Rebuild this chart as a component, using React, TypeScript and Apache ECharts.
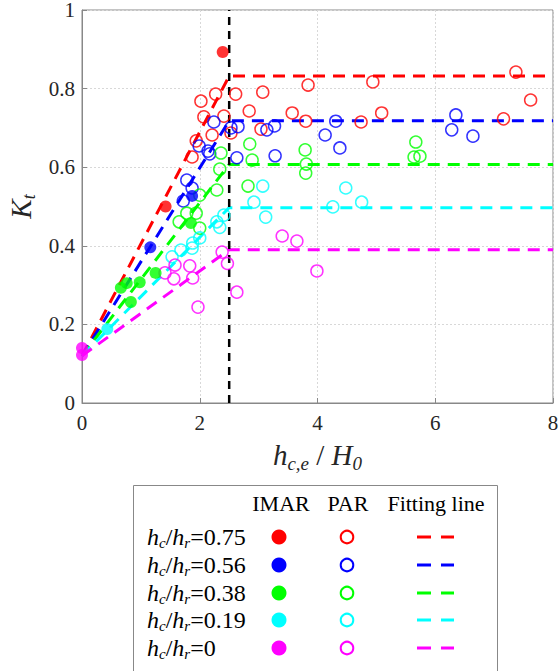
import React, { useEffect, useRef } from "react";
import * as echarts from "echarts";

const groupLabels = ["0.75", "0.56", "0.38", "0.19", "0"];
const groupColors = ["#ff0000", "#0000ff", "#00ff00", "#00ffff", "#ff00ff"];

const imarRed = [[2.39, 0.893], [1.42, 0.5]];
const imarBlue = [[1.16, 0.396], [1.87, 0.527]];
const imarGreen = [[1.85, 0.458], [1.25, 0.331], [0.98, 0.307], [0.76, 0.305], [0.66, 0.293], [0.83, 0.257]];
const imarCyan = [[0.43, 0.188]];
const imarMagenta = [[0, 0.14], [0, 0.122]];

const parRed = [[2.02, 0.768], [2.27, 0.786], [2.61, 0.786], [2.07, 0.728], [2.41, 0.73], [2.84, 0.743], [2.21, 0.682], [2.53, 0.687], [1.94, 0.667], [1.87, 0.626], [3.07, 0.791], [3.04, 0.697], [3.57, 0.738], [3.84, 0.809], [3.8, 0.717], [4.94, 0.817], [5.09, 0.738], [4.74, 0.715], [7.37, 0.842], [7.62, 0.771], [7.16, 0.723]];
const parBlue = [[1.72, 0.514], [1.87, 0.547], [1.78, 0.567], [2.24, 0.715], [2.53, 0.7], [2.65, 0.703], [1.99, 0.654], [2.14, 0.641], [2.17, 0.634], [2.63, 0.624], [3.14, 0.695], [3.27, 0.705], [3.28, 0.629], [4.31, 0.717], [4.13, 0.682], [4.38, 0.649], [6.35, 0.733], [6.28, 0.695], [6.64, 0.679]];
const parGreen = [[2.0, 0.529], [1.78, 0.483], [1.94, 0.483], [1.65, 0.461], [2.0, 0.445], [2.29, 0.542], [2.36, 0.636], [2.85, 0.659], [2.34, 0.595], [2.89, 0.618], [2.82, 0.552], [3.79, 0.644], [3.81, 0.608], [3.8, 0.585], [5.67, 0.664], [5.64, 0.626], [5.74, 0.628]];
const parCyan = [[2.29, 0.461], [2.34, 0.447], [2.41, 0.478], [2.0, 0.42], [1.88, 0.407], [1.87, 0.394], [1.68, 0.389], [1.53, 0.372], [3.07, 0.552], [2.92, 0.511], [3.12, 0.473], [4.48, 0.547], [4.26, 0.499], [4.75, 0.511]];
const parMagenta = [[1.41, 0.331], [1.58, 0.351], [1.83, 0.349], [1.56, 0.316], [1.88, 0.318], [1.97, 0.244], [2.38, 0.384], [2.47, 0.355], [2.63, 0.282], [3.4, 0.425], [3.65, 0.412], [3.99, 0.336]];

const fitPlateaus = [0.832, 0.718, 0.607, 0.497, 0.39];
const fitIntercept = 0.12;
const fitBreakX = 2.5;
const xMin = 0;
const xMax = 8;
const xInterval = 2;
const yMin = 0;
const yMax = 1;
const yInterval = 0.2;

const imarData = [imarRed, imarBlue, imarGreen, imarCyan, imarMagenta];
const parData = [parRed, parBlue, parGreen, parCyan, parMagenta];

const FONT = "Liberation Serif";

export default function App() {
  const ref = useRef<HTMLDivElement>(null);
  useEffect(() => {
    const chart = echarts.init(ref.current!, null, { renderer: "svg" });
    const series: any[] = [];
    groupLabels.forEach((_, i) => {
      series.push({
        type: "line",
        data: [[xMin, fitIntercept], [fitBreakX, fitPlateaus[i]], [xMax, fitPlateaus[i]]],
        showSymbol: false,
        symbol: "none",
        lineStyle: { color: groupColors[i], width: 3, type: [12, 8] },
        z: 2,
      });
    });
    series.push({
      type: "line",
      data: [[fitBreakX, yMin], [fitBreakX, yMax]],
      symbol: "none",
      lineStyle: { color: "#000", width: 2.5, type: [8, 6] },
      z: 3,
    });
    groupLabels.forEach((_, i) => {
      series.push({
        type: "scatter",
        data: parData[i],
        symbol: "circle",
        symbolSize: 12,
        itemStyle: { color: "rgba(0,0,0,0)", borderColor: groupColors[i], borderWidth: 1.5 },
        z: 4,
      });
    });
    groupLabels.forEach((_, i) => {
      series.push({
        type: "scatter",
        data: imarData[i],
        symbol: "circle",
        symbolSize: 12,
        itemStyle: { color: groupColors[i] },
        z: 5,
      });
    });

    const legendRowsY = [537, 565, 593, 620, 648];
    const graphics: any[] = [
      {
        type: "rect",
        shape: { x: 133.5, y: 485.5, width: 364, height: 190 },
        style: { fill: "#fff", stroke: "#888", lineWidth: 1 },
      },
      { type: "text", x: 281, y: 503, style: { text: "IMAR", fontFamily: FONT, fontSize: 22, fill: "#000", align: "center", verticalAlign: "middle" } },
      { type: "text", x: 348, y: 503, style: { text: "PAR", fontFamily: FONT, fontSize: 22, fill: "#000", align: "center", verticalAlign: "middle" } },
      { type: "text", x: 436, y: 503, style: { text: "Fitting line", fontFamily: FONT, fontSize: 22, fill: "#000", align: "center", verticalAlign: "middle" } },
    ];
    groupLabels.forEach((g, i) => {
      const y = legendRowsY[i];
      graphics.push({
        type: "text",
        x: 147,
        y,
        style: {
          text: `{i|h}{s|c}{n|/}{i|h}{s|r}{n|=${g}}`,
          fill: "#000",
          fontFamily: FONT,
          align: "left",
          verticalAlign: "middle",
          rich: {
            i: { fontFamily: FONT, fontStyle: "italic", fontSize: 24, lineHeight: 26 },
            s: { fontFamily: FONT, fontStyle: "italic", fontSize: 15, lineHeight: 26, padding: [12, 0, 0, 0] },
            n: { fontFamily: FONT, fontSize: 24, lineHeight: 26 },
          },
        },
      });
      graphics.push({ type: "circle", shape: { cx: 279, cy: y, r: 7.5 }, style: { fill: groupColors[i] } });
      graphics.push({ type: "circle", shape: { cx: 347, cy: y, r: 6.3 }, style: { fill: "none", stroke: groupColors[i], lineWidth: 2 } });
      graphics.push({ type: "line", shape: { x1: 417, y1: y, x2: 431, y2: y }, style: { stroke: groupColors[i], lineWidth: 3 } });
      graphics.push({ type: "line", shape: { x1: 441, y1: y, x2: 454, y2: y }, style: { stroke: groupColors[i], lineWidth: 3 } });
    });

    chart.setOption({
      animation: false,
      backgroundColor: "#fff",
      textStyle: { fontFamily: FONT },
      grid: { left: 82, right: 6, top: 10, bottom: 268, show: true, borderColor: "#888", borderWidth: 1, containLabel: false, outerBoundsMode: "none" },
      xAxis: {
        type: "value",
        min: xMin,
        max: xMax,
        interval: xInterval,
        axisLine: { show: true, lineStyle: { color: "#888" } },
        axisTick: { show: true, inside: true, length: 5, lineStyle: { color: "#888" } },
        splitLine: { show: true, lineStyle: { color: "#d8d8d8", type: [2, 2], width: 1 } },
        axisLabel: { color: "#262626", fontFamily: FONT, fontSize: 21, margin: 9 },
        name: "{i|h}{s|c,e}{n| / }{i|H}{s|0}",
        nameLocation: "middle",
        nameGap: 33,
        nameTextStyle: {
          fontFamily: FONT,
          rich: {
            i: { fontFamily: FONT, fontStyle: "italic", fontSize: 29, lineHeight: 32, color: "#262626" },
            s: { fontFamily: FONT, fontStyle: "italic", fontSize: 19, lineHeight: 32, padding: [16, 0, 0, 0], color: "#262626" },
            n: { fontFamily: FONT, fontSize: 29, lineHeight: 32, color: "#262626" },
          },
        },
      },
      yAxis: {
        type: "value",
        min: yMin,
        max: yMax,
        interval: yInterval,
        axisLine: { show: true, lineStyle: { color: "#888" } },
        axisTick: { show: true, inside: true, length: 5, lineStyle: { color: "#888" } },
        splitLine: { show: true, lineStyle: { color: "#d8d8d8", type: [2, 2], width: 1 } },
        axisLabel: { color: "#262626", fontFamily: FONT, fontSize: 21, margin: 7 },
        name: "{i|K}{s|t}",
        nameLocation: "middle",
        nameGap: 44,
        nameRotate: 90,
        nameTextStyle: {
          fontFamily: FONT,
          rich: {
            i: { fontFamily: FONT, fontStyle: "italic", fontSize: 29, lineHeight: 32, color: "#262626" },
            s: { fontFamily: FONT, fontStyle: "italic", fontSize: 18, lineHeight: 32, padding: [16, 0, 0, 0], color: "#262626" },
          },
        },
      },
      series,
      graphic: graphics,
    });
    return () => chart.dispose();
  }, []);
  return <div ref={ref} style={{ position: "absolute", left: 0, top: 0, width: 559, height: 671 }} />;
}
